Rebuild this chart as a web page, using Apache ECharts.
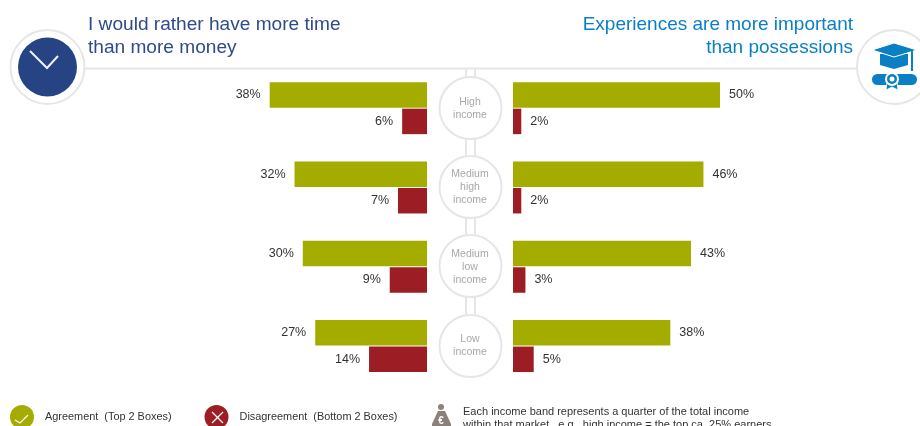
<!DOCTYPE html>
<html><head><meta charset="utf-8">
<style>html,body{margin:0;padding:0;background:#fff}#c{width:920px;height:426px}</style>
<script src="https://cdn.jsdelivr.net/npm/echarts@6/dist/echarts.min.js"></script>
</head><body><div id="c"></div>
<script>
const categories = ['High\nincome','Medium\nhigh\nincome','Medium\nlow\nincome','Low\nincome'];
const timeAgree = [38,32,30,27];
const timeDisagree = [6,7,9,14];
const expAgree = [50,46,43,38];
const expDisagree = [2,2,3,5];
const agreeName = 'Agreement  (Top 2 Boxes)';
const disagreeName = 'Disagreement  (Bottom 2 Boxes)';
const GREEN='#a5ac00', RED='#9c1e24', LINE='#e6e6e6', FONT='"Liberation Sans",Arial,sans-serif';
const chart = echarts.init(document.getElementById('c'),null,{renderer:'canvas'});
const circleYs=[108,187,266,346];
const graphic=[];
const ln=(x1,y1,x2,y2,c,w)=>graphic.push({type:'line',z:-1,shape:{x1,y1,x2,y2},style:{stroke:c||LINE,lineWidth:w||2,lineCap:'round'},silent:true});
ln(85,68.5,857,68.5);
[466,475].forEach(x=>ln(x,69,x,340));
circleYs.forEach(y=>graphic.push({type:'circle',z:-1,shape:{cx:470.5,cy:y,r:31},style:{fill:'#fff',stroke:LINE,lineWidth:2},silent:true}));
// clock
graphic.push({type:'circle',shape:{cx:47.5,cy:67,r:37},style:{fill:'#fff',stroke:LINE,lineWidth:2},silent:true});
graphic.push({type:'circle',shape:{cx:47.5,cy:67,r:29.5},style:{fill:'#264384'},silent:true});
graphic.push({type:'polyline',z:5,shape:{points:[[30,51],[47,68],[58,56]]},style:{stroke:'#f2f4f8',lineWidth:2,fill:null},silent:true});
// cap icon
const B='#0a7fc4';
graphic.push({type:'circle',shape:{cx:894,cy:67,r:37},style:{fill:'#fff',stroke:LINE,lineWidth:2},silent:true});
graphic.push({type:'polygon',shape:{points:[[880,54],[908,54],[908,65],[894,69],[880,65]]},style:{fill:B},silent:true});
graphic.push({type:'polygon',shape:{points:[[872,50],[894,43],[917,50],[894,57]]},style:{fill:B,stroke:'#fff',lineWidth:1},silent:true});
graphic.push({type:'rect',shape:{x:911,y:51,width:2,height:20},style:{fill:B},silent:true});
graphic.push({type:'rect',shape:{x:872,y:74,width:45,height:11,r:5.5},style:{fill:B},silent:true});
graphic.push({type:'polygon',shape:{points:[[887,82],[897,82],[898,90],[892,87],[886,90]]},style:{fill:B,stroke:'#fff',lineWidth:.8},silent:true});
graphic.push({type:'circle',shape:{cx:892,cy:79,r:7},style:{fill:'#fff'},silent:true});
graphic.push({type:'circle',shape:{cx:892,cy:79,r:5},style:{fill:B},silent:true});
graphic.push({type:'circle',shape:{cx:892,cy:79,r:2.5},style:{fill:'#fff'},silent:true});
// titles
graphic.push({type:'text',x:88,y:13,style:{text:'I would rather have more time\nthan more money',font:'19.1px '+FONT,fill:'#2f4a8c',lineHeight:23,textVerticalAlign:'top'},silent:true});
graphic.push({type:'text',x:853,y:13,style:{text:'Experiences are more important\nthan possessions',font:'19px '+FONT,fill:'#0a7fc4',lineHeight:23,align:'right',textAlign:'right',textVerticalAlign:'top'},silent:true});
// legend marks
graphic.push({type:'polyline',z:20,shape:{points:[[15,420],[20,423],[28,415]]},style:{stroke:'#fff',lineWidth:1.2,fill:null},silent:true});
graphic.push({type:'polyline',z:20,shape:{points:[[212,412],[223,423]]},style:{stroke:'#fff',lineWidth:1.2,fill:null},silent:true});
graphic.push({type:'polyline',z:20,shape:{points:[[223,412],[212,423]]},style:{stroke:'#fff',lineWidth:1.2,fill:null},silent:true});
// money bag
graphic.push({type:'circle',shape:{cx:441,cy:407,r:3},style:{fill:'#8b817a'},silent:true});
graphic.push({type:'polygon',shape:{points:[[438,411],[445,411],[451,424],[451,430],[432,430],[432,424]]},style:{fill:'#8b817a'},silent:true});
graphic.push({type:'text',x:441,y:416,style:{text:'€',font:'bold 10px '+FONT,fill:'#fff',textAlign:'center'},silent:true});
graphic.push({type:'text',x:463,y:405,style:{text:'Each income band represents a quarter of the total income\nwithin that market , e.g., high income = the top ca. 25% earners',font:'11px '+FONT,fill:'#333',lineHeight:13},silent:true});

const bar=(name,data,idx,color,pos)=>({type:'bar',name,data,xAxisIndex:idx,yAxisIndex:idx,barWidth:25.5,barGap:'4%',
 itemStyle:{color},label:{show:true,position:pos,distance:9,formatter:'{c}%',fontFamily:FONT,fontSize:12.5,color:'#333'}});
chart.setOption({
 animation:false,
 grid:[{left:178.6,width:248.4,top:68.5,height:317.2},{left:513,width:248.4,top:68.5,height:317.2}],
 xAxis:[{type:'value',gridIndex:0,min:0,max:60,inverse:true,show:false},{type:'value',gridIndex:1,min:0,max:60,show:false}],
 yAxis:[
  {type:'category',gridIndex:0,data:categories,inverse:true,position:'right',axisLine:{show:false},axisTick:{show:false},
   axisLabel:{show:true,margin:43,align:'center',fontFamily:FONT,fontSize:10.5,lineHeight:13,color:'#a8a8a8'}},
  {type:'category',gridIndex:1,data:categories,inverse:true,axisLine:{show:false},axisTick:{show:false},axisLabel:{show:false}}],
 legend:{left:10,top:405,padding:0,itemWidth:24,itemHeight:24,itemGap:33,icon:'circle',data:[agreeName,disagreeName],selectedMode:false,
  textStyle:{fontFamily:FONT,fontSize:10.9,color:'#333',padding:[0,0,0,6]}},
 series:[bar(agreeName,timeAgree,0,GREEN,'left'),bar(disagreeName,timeDisagree,0,RED,'left'),
         bar(agreeName,expAgree,1,GREEN,'right'),bar(disagreeName,expDisagree,1,RED,'right')],
 graphic:{elements:graphic}
});
</script></body></html>
